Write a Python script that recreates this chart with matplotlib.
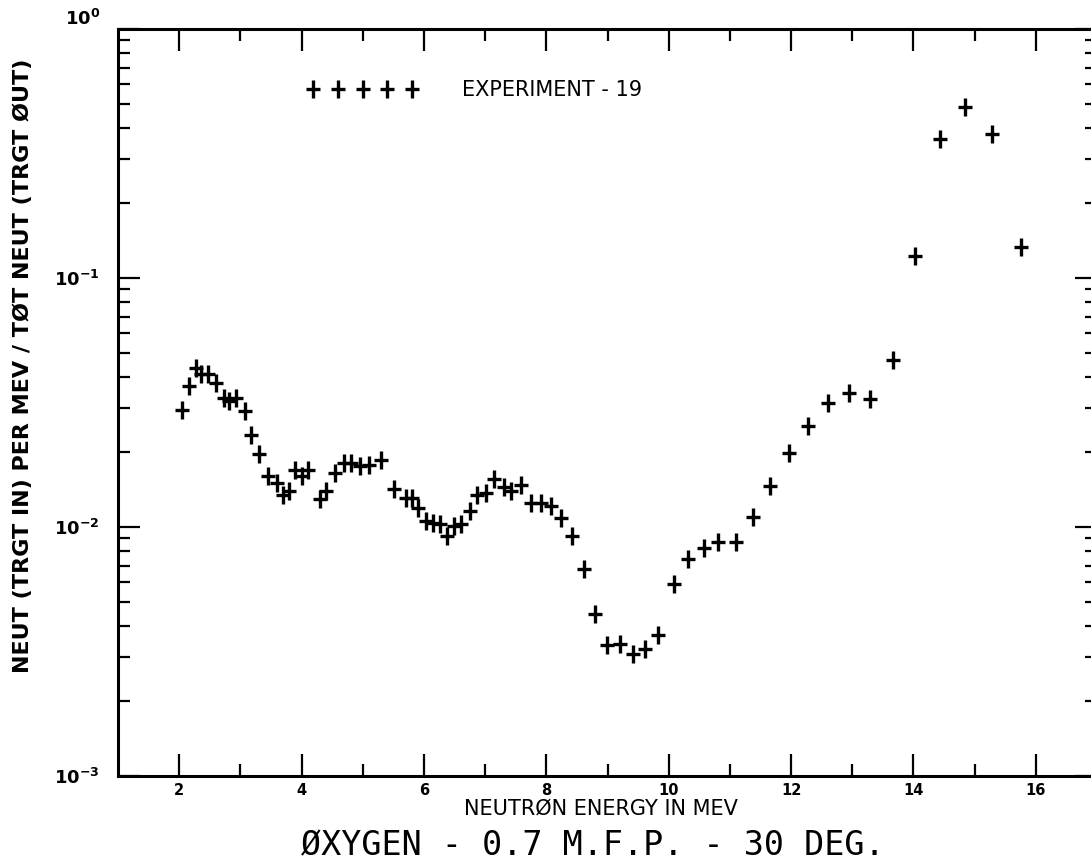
# oxygen 0.7 mfp, 30 deg -- experiment 19
import numpy as np
import matplotlib.pyplot as plt
from matplotlib.path import Path
from matplotlib.lines import Line2D
from matplotlib.ticker import FixedLocator, LogLocator, NullFormatter

energy = [2.04, 2.16, 2.27, 2.36, 2.47, 2.60, 2.74, 2.82, 2.93, 3.07, 3.18, 3.30,
          3.45, 3.60, 3.70, 3.80, 3.90, 4.00, 4.10, 4.30, 4.40, 4.55, 4.70, 4.80,
          4.95, 5.10, 5.30, 5.51, 5.70, 5.81, 5.91, 6.03, 6.14, 6.26, 6.38, 6.49,
          6.60, 6.75, 6.86, 7.01, 7.15, 7.31, 7.42, 7.58, 7.75, 7.91, 8.08, 8.24,
          8.42, 8.61, 8.80, 8.99, 9.20, 9.41, 9.61, 9.83, 10.08, 10.31, 10.57,
          10.81, 11.10, 11.37, 11.66, 11.97, 12.27, 12.61, 12.95, 13.29, 13.67,
          14.03, 14.44, 14.85, 15.29, 15.76]
neut = [0.0296, 0.0367, 0.0436, 0.0410, 0.0410, 0.0377, 0.0330, 0.0320, 0.0330,
        0.0292, 0.0235, 0.0196, 0.0160, 0.0150, 0.0135, 0.0140, 0.0170, 0.0160,
        0.0170, 0.0130, 0.0140, 0.0165, 0.0180, 0.0180, 0.0175, 0.0178, 0.0185,
        0.01416, 0.01312, 0.0131, 0.01197, 0.01057, 0.01042, 0.01025, 0.00920,
        0.01009, 0.01025, 0.01159, 0.01340, 0.01365, 0.01553, 0.01452, 0.01394,
        0.01470, 0.01245, 0.01245, 0.01214, 0.01091, 0.00920, 0.00677, 0.00447,
        0.00335, 0.00339, 0.00309, 0.00325, 0.00368, 0.00589, 0.00742, 0.00823,
        0.00871, 0.00871, 0.01094, 0.01456, 0.01974, 0.02551, 0.03143, 0.03443,
        0.03261, 0.04673, 0.1229, 0.3608, 0.4850, 0.3778, 0.1338]

xticks = [2, 4, 6, 8, 10, 12, 14, 16]
yticks = [1e-3, 1e-2, 1e-1, 1e0]
ytick_labels = [r'$\mathbf{10^{-3}}$', r'$\mathbf{10^{-2}}$', r'$\mathbf{10^{-1}}$', r'$\mathbf{10^{0}}$']

# plotter style cross, a bit taller than wide
plus = Path([(-0.38, 0), (0.38, 0), (0, -0.5), (0, 0.5)],
            [Path.MOVETO, Path.LINETO, Path.MOVETO, Path.LINETO])

fig = plt.figure(figsize=(10.91, 8.66), dpi=100)
ax = fig.add_axes([118/1091, 90/866, 979/1091, 747/866])

ax.plot(energy, neut, ls='none', marker=plus, ms=12.5, mew=2.4, color='k')

ax.set_yscale('log')
ax.set_xlim(1, 17)
ax.set_ylim(1e-3, 1)

ax.xaxis.set_major_locator(FixedLocator(xticks))
ax.xaxis.set_minor_locator(FixedLocator([3, 5, 7, 9, 11, 13, 15]))
ax.set_xticklabels([str(t) for t in xticks], fontsize=10.5, fontweight='bold')
ax.set_yticks(yticks)
ax.set_yticklabels(ytick_labels, fontsize=13)
ax.yaxis.set_minor_locator(LogLocator(base=10, subs=np.arange(2, 10)))
ax.yaxis.set_minor_formatter(NullFormatter())

ax.tick_params(which='both', direction='in', top=True, right=True, width=1.6, color='k')
ax.tick_params(which='major', length=15.5)
ax.tick_params(which='minor', length=8.5)
ax.tick_params(axis='x', pad=5)
ax.tick_params(axis='y', pad=13)
for s in ax.spines.values():
    s.set_linewidth(2.2)
# top label sits above its tick in the original
ax.get_yticklabels()[-1].set_va('bottom')

ax.set_xlabel('NEUTRØN ENERGY IN MEV', fontsize=15)
ax.xaxis.set_label_coords((601 - 118) / 979, -(799 - 776) / 747)
ax.set_ylabel('NEUT (TRGT IN) PER MEV / TØT NEUT (TRGT ØUT)', fontsize=16, fontweight='bold')
ax.yaxis.set_label_coords(-(118 - 33) / 979, (776 - 366) / 747)

h = Line2D([], [], ls='none', marker=plus, ms=12.5, mew=2.4, color='k')
ax.legend([h], ['EXPERIMENT - 19'], numpoints=5, frameon=False, fontsize=15,
          handlelength=5.36, handletextpad=2.1, borderpad=0, borderaxespad=0,
          loc='center left', bbox_to_anchor=(0.1928, 0.918))

fig.text(593/1091, 1 - 846/866, 'ØXYGEN - 0.7 M.F.P. - 30 DEG.', fontsize=24,
         family='DejaVu Sans Mono', ha='center', va='center')

fig.savefig('out.png', dpi=100)
